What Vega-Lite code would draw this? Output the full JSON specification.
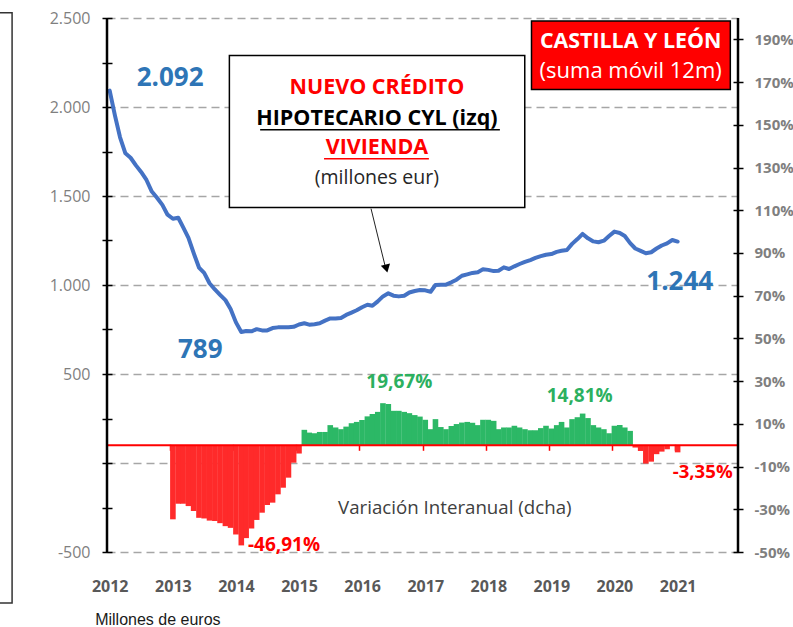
{
  "$schema": "https://vega.github.io/schema/vega-lite/v6.json",
  "width": 631,
  "height": 534,
  "autosize": {"type": "none"},
  "padding": {"left": 107, "top": 18, "right": 55, "bottom": 75},
  "background": "white",
  "config": {"view": {"stroke": null}, "font": "Open Sans"},
  "data": {"values": [
    {"date": "2012-01-01", "credito": 2092, "tasa": null},
    {"date": "2012-02-01", "credito": 1950, "tasa": null},
    {"date": "2012-03-01", "credito": 1830, "tasa": null},
    {"date": "2012-04-01", "credito": 1740, "tasa": null},
    {"date": "2012-05-01", "credito": 1715, "tasa": null},
    {"date": "2012-06-01", "credito": 1672, "tasa": null},
    {"date": "2012-07-01", "credito": 1635, "tasa": null},
    {"date": "2012-08-01", "credito": 1590, "tasa": null},
    {"date": "2012-09-01", "credito": 1525, "tasa": null},
    {"date": "2012-10-01", "credito": 1490, "tasa": null},
    {"date": "2012-11-01", "credito": 1450, "tasa": null},
    {"date": "2012-12-01", "credito": 1395, "tasa": null},
    {"date": "2013-01-01", "credito": 1372, "tasa": -34.7},
    {"date": "2013-02-01", "credito": 1378, "tasa": -27.4},
    {"date": "2013-03-01", "credito": 1325, "tasa": -27.4},
    {"date": "2013-04-01", "credito": 1265, "tasa": -28.5},
    {"date": "2013-05-01", "credito": 1180, "tasa": -30.8},
    {"date": "2013-06-01", "credito": 1098, "tasa": -34.0},
    {"date": "2013-07-01", "credito": 1068, "tasa": -34.3},
    {"date": "2013-08-01", "credito": 1010, "tasa": -35.3},
    {"date": "2013-09-01", "credito": 975, "tasa": -35.5},
    {"date": "2013-10-01", "credito": 945, "tasa": -36.5},
    {"date": "2013-11-01", "credito": 915, "tasa": -37.9},
    {"date": "2013-12-01", "credito": 865, "tasa": -38.7},
    {"date": "2014-01-01", "credito": 790, "tasa": -41.8},
    {"date": "2014-02-01", "credito": 736, "tasa": -46.91},
    {"date": "2014-03-01", "credito": 742, "tasa": -43.5},
    {"date": "2014-04-01", "credito": 740, "tasa": -39.0},
    {"date": "2014-05-01", "credito": 752, "tasa": -35.0},
    {"date": "2014-06-01", "credito": 745, "tasa": -31.6},
    {"date": "2014-07-01", "credito": 745, "tasa": -28.0},
    {"date": "2014-08-01", "credito": 758, "tasa": -26.9},
    {"date": "2014-09-01", "credito": 762, "tasa": -23.0},
    {"date": "2014-10-01", "credito": 762, "tasa": -19.9},
    {"date": "2014-11-01", "credito": 762, "tasa": -15.2},
    {"date": "2014-12-01", "credito": 765, "tasa": -8.2},
    {"date": "2015-01-01", "credito": 778, "tasa": -3.9},
    {"date": "2015-02-01", "credito": 785, "tasa": 7.2},
    {"date": "2015-03-01", "credito": 777, "tasa": 5.9},
    {"date": "2015-04-01", "credito": 780, "tasa": 5.6},
    {"date": "2015-05-01", "credito": 785, "tasa": 6.2},
    {"date": "2015-06-01", "credito": 800, "tasa": 6.2},
    {"date": "2015-07-01", "credito": 812, "tasa": 9.4},
    {"date": "2015-08-01", "credito": 812, "tasa": 8.3},
    {"date": "2015-09-01", "credito": 815, "tasa": 7.5},
    {"date": "2015-10-01", "credito": 832, "tasa": 8.7},
    {"date": "2015-11-01", "credito": 845, "tasa": 10.3},
    {"date": "2015-12-01", "credito": 858, "tasa": 10.9},
    {"date": "2016-01-01", "credito": 875, "tasa": 11.8},
    {"date": "2016-02-01", "credito": 889, "tasa": 13.5},
    {"date": "2016-03-01", "credito": 883, "tasa": 14.6},
    {"date": "2016-04-01", "credito": 908, "tasa": 15.6},
    {"date": "2016-05-01", "credito": 936, "tasa": 19.67},
    {"date": "2016-06-01", "credito": 953, "tasa": 19.3},
    {"date": "2016-07-01", "credito": 940, "tasa": 16.1},
    {"date": "2016-08-01", "credito": 936, "tasa": 16.1},
    {"date": "2016-09-01", "credito": 940, "tasa": 15.6},
    {"date": "2016-10-01", "credito": 958, "tasa": 15.0},
    {"date": "2016-11-01", "credito": 966, "tasa": 14.1},
    {"date": "2016-12-01", "credito": 972, "tasa": 13.4},
    {"date": "2017-01-01", "credito": 970, "tasa": 11.9},
    {"date": "2017-02-01", "credito": 962, "tasa": 7.5},
    {"date": "2017-03-01", "credito": 1000, "tasa": 12.2},
    {"date": "2017-04-01", "credito": 1002, "tasa": 8.5},
    {"date": "2017-05-01", "credito": 1002, "tasa": 7.5},
    {"date": "2017-06-01", "credito": 1015, "tasa": 9.0},
    {"date": "2017-07-01", "credito": 1030, "tasa": 9.9},
    {"date": "2017-08-01", "credito": 1052, "tasa": 10.6},
    {"date": "2017-09-01", "credito": 1060, "tasa": 10.9},
    {"date": "2017-10-01", "credito": 1068, "tasa": 10.5},
    {"date": "2017-11-01", "credito": 1072, "tasa": 9.4},
    {"date": "2017-12-01", "credito": 1088, "tasa": 11.9},
    {"date": "2018-01-01", "credito": 1085, "tasa": 11.9},
    {"date": "2018-02-01", "credito": 1078, "tasa": 11.4},
    {"date": "2018-03-01", "credito": 1080, "tasa": 7.5},
    {"date": "2018-04-01", "credito": 1099, "tasa": 8.3},
    {"date": "2018-05-01", "credito": 1090, "tasa": 8.3},
    {"date": "2018-06-01", "credito": 1105, "tasa": 9.1},
    {"date": "2018-07-01", "credito": 1118, "tasa": 8.3},
    {"date": "2018-08-01", "credito": 1130, "tasa": 7.5},
    {"date": "2018-09-01", "credito": 1140, "tasa": 7.0},
    {"date": "2018-10-01", "credito": 1152, "tasa": 7.0},
    {"date": "2018-11-01", "credito": 1162, "tasa": 8.0},
    {"date": "2018-12-01", "credito": 1170, "tasa": 9.1},
    {"date": "2019-01-01", "credito": 1174, "tasa": 7.8},
    {"date": "2019-02-01", "credito": 1186, "tasa": 9.4},
    {"date": "2019-03-01", "credito": 1192, "tasa": 10.9},
    {"date": "2019-04-01", "credito": 1197, "tasa": 8.3},
    {"date": "2019-05-01", "credito": 1231, "tasa": 12.2},
    {"date": "2019-06-01", "credito": 1258, "tasa": 13.1},
    {"date": "2019-07-01", "credito": 1287, "tasa": 14.81},
    {"date": "2019-08-01", "credito": 1262, "tasa": 12.7},
    {"date": "2019-09-01", "credito": 1245, "tasa": 9.4},
    {"date": "2019-10-01", "credito": 1240, "tasa": 8.3},
    {"date": "2019-11-01", "credito": 1249, "tasa": 7.5},
    {"date": "2019-12-01", "credito": 1275, "tasa": 5.6},
    {"date": "2020-01-01", "credito": 1300, "tasa": 9.1},
    {"date": "2020-02-01", "credito": 1292, "tasa": 9.4},
    {"date": "2020-03-01", "credito": 1275, "tasa": 8.3},
    {"date": "2020-04-01", "credito": 1235, "tasa": 6.7},
    {"date": "2020-05-01", "credito": 1205, "tasa": -1.1},
    {"date": "2020-06-01", "credito": 1192, "tasa": -2.7},
    {"date": "2020-07-01", "credito": 1178, "tasa": -8.6},
    {"date": "2020-08-01", "credito": 1184, "tasa": -7.7},
    {"date": "2020-09-01", "credito": 1205, "tasa": -4.2},
    {"date": "2020-10-01", "credito": 1222, "tasa": -3.0},
    {"date": "2020-11-01", "credito": 1234, "tasa": -1.9},
    {"date": "2020-12-01", "credito": 1253, "tasa": -0.3},
    {"date": "2021-01-01", "credito": 1244, "tasa": -3.35}
  ]},
  "resolve": {"scale": {"y": "independent"}, "axis": {"x": "independent"}},
  "layer": [
    {
      "layer": [
        {
          "mark": {"type": "bar", "width": 5.6},
          "encoding": {
            "x": {"field": "date", "type": "temporal",
              "scale": {"type": "utc", "nice": false, "padding": 0, "domain": [{"year": 2011, "month": 12, "date": 16, "hours": 12, "utc": true}, {"year": 2021, "month": 12, "date": 16, "hours": 12, "utc": true}]},
              "axis": {"orient": "bottom", "offset": -107.7, "title": null, "labels": false, "domain": false, "grid": false, "ticks": true, "tickColor": "#ff0000", "tickSize": 6, "tickWidth": 1.5,
                "values": [
                  {"year": 2012, "month": 12, "date": 16, "hours": 12, "utc": true},
                  {"year": 2013, "month": 12, "date": 16, "hours": 12, "utc": true},
                  {"year": 2014, "month": 12, "date": 16, "hours": 12, "utc": true},
                  {"year": 2015, "month": 12, "date": 16, "hours": 12, "utc": true},
                  {"year": 2016, "month": 12, "date": 16, "hours": 12, "utc": true},
                  {"year": 2017, "month": 12, "date": 16, "hours": 12, "utc": true},
                  {"year": 2018, "month": 12, "date": 16, "hours": 12, "utc": true},
                  {"year": 2019, "month": 12, "date": 16, "hours": 12, "utc": true},
                  {"year": 2020, "month": 12, "date": 16, "hours": 12, "utc": true}
                ]}},
            "y": {"field": "tasa", "type": "quantitative",
              "scale": {"domain": [-50, 200], "nice": false, "zero": false},
              "axis": {"orient": "right", "title": null, "grid": false, "domain": false, "offset": -5, "tickSize": 10, "tickColor": "#000000", "tickWidth": 1.5,
                "values": [-50, -40, -30, -20, -10, 0, 10, 20, 30, 40, 50, 60, 70, 80, 90, 100, 110, 120, 130, 140, 150, 160, 170, 180, 190],
                "labelExpr": "(datum.value + 50) % 20 === 0 ? datum.value + '%' : ''",
                "labelFontSize": 15, "labelFontWeight": "bold", "labelColor": "#7f7f7f", "labelPadding": 11, "labelFont": "Open Sans"}},
            "color": {"condition": {"test": "datum['tasa'] < 0", "value": "#ff2a2a"}, "value": "#2cb866"}
          }
        },
        {
          "data": {"values": [{}]},
          "mark": {"type": "rule", "color": "#ff0000", "strokeWidth": 2},
          "encoding": {"y": {"datum": 0, "type": "quantitative"}}
        }
      ]
    },
    {
      "layer": [
        {
          "mark": {"type": "line", "color": "#4472c4", "strokeWidth": 4, "strokeJoin": "round", "strokeCap": "round"},
          "encoding": {
            "x": {"field": "date", "type": "temporal",
              "scale": {"type": "utc", "nice": false, "padding": 0, "domain": [{"year": 2011, "month": 12, "date": 16, "hours": 12, "utc": true}, {"year": 2021, "month": 12, "date": 16, "hours": 12, "utc": true}]},
              "axis": {"orient": "bottom", "title": null, "format": "%Y", "domain": false, "ticks": false, "grid": false, "labelFontSize": 16, "labelFontWeight": "bold", "labelColor": "#595959", "labelPadding": 26, "labelFont": "Open Sans",
                "values": [
                  {"year": 2012, "month": 1, "date": 1, "utc": true},
                  {"year": 2013, "month": 1, "date": 1, "utc": true},
                  {"year": 2014, "month": 1, "date": 1, "utc": true},
                  {"year": 2015, "month": 1, "date": 1, "utc": true},
                  {"year": 2016, "month": 1, "date": 1, "utc": true},
                  {"year": 2017, "month": 1, "date": 1, "utc": true},
                  {"year": 2018, "month": 1, "date": 1, "utc": true},
                  {"year": 2019, "month": 1, "date": 1, "utc": true},
                  {"year": 2020, "month": 1, "date": 1, "utc": true},
                  {"year": 2021, "month": 1, "date": 1, "utc": true}
                ]}},
            "y": {"field": "credito", "type": "quantitative",
              "scale": {"domain": [-500, 2500], "nice": false, "zero": false},
              "axis": {"orient": "left", "title": null, "domain": false, "offset": -5, "tickSize": 10, "tickColor": "#000000", "tickWidth": 1.5,
                "values": [-500, -250, 0, 250, 500, 750, 1000, 1250, 1500, 1750, 2000, 2250, 2500],
                "labelExpr": "datum.value % 500 !== 0 || datum.value === 0 ? '' : (abs(datum.value) >= 1000 ? replace(format(datum.value, ','), ',', '.') : '' + datum.value)",
                "labelFontSize": 16, "labelColor": "#7f7f7f", "labelPadding": 12, "labelFont": "Open Sans",
                "grid": true, "gridColor": "#a6a6a6", "gridDash": [8, 5], "gridWidth": 1.5,
                "gridOpacity": {"condition": {"test": "datum.value % 500 === 0", "value": 1}, "value": 0}}}
          }
        },
        {
          "data": {"values": [{}]},
          "mark": {"type": "rule", "color": "#000000", "strokeWidth": 2.5},
          "encoding": {"x": {"datum": {"year": 2011, "month": 12, "date": 16, "hours": 12, "utc": true}, "type": "temporal"}}
        },
        {
          "data": {"values": [{}]},
          "mark": {"type": "rule", "color": "#000000", "strokeWidth": 2.5},
          "encoding": {"x": {"datum": {"year": 2021, "month": 12, "date": 16, "hours": 12, "utc": true}, "type": "temporal"}}
        },
        {
          "data": {"values": [{}]},
          "mark": {"type": "text", "text": "2.092", "font": "Open Sans", "fontSize": 26, "fontWeight": "bold", "color": "#2e75b6", "align": "center", "baseline": "middle"},
          "encoding": {"x": {"datum": {"year": 2012, "month": 12, "date": 16, "utc": true}, "type": "temporal"}, "y": {"datum": 2163, "type": "quantitative"}}
        },
        {
          "data": {"values": [{}]},
          "mark": {"type": "text", "text": "789", "font": "Open Sans", "fontSize": 26, "fontWeight": "bold", "color": "#2e75b6", "align": "center", "baseline": "middle"},
          "encoding": {"x": {"datum": {"year": 2013, "month": 6, "date": 8, "utc": true}, "type": "temporal"}, "y": {"datum": 636, "type": "quantitative"}}
        },
        {
          "data": {"values": [{}]},
          "mark": {"type": "text", "text": "1.244", "font": "Open Sans", "fontSize": 26, "fontWeight": "bold", "color": "#2e75b6", "align": "center", "baseline": "middle"},
          "encoding": {"x": {"datum": {"year": 2021, "month": 1, "date": 13, "utc": true}, "type": "temporal"}, "y": {"datum": 1019, "type": "quantitative"}}
        },
        {
          "data": {"values": [{}]},
          "mark": {"type": "text", "text": "19,67%", "font": "Open Sans", "fontSize": 19, "fontWeight": "bold", "color": "#2cb05f", "align": "center", "baseline": "middle"},
          "encoding": {"x": {"datum": {"year": 2016, "month": 8, "date": 4, "utc": true}, "type": "temporal"}, "y": {"datum": 456, "type": "quantitative"}}
        },
        {
          "data": {"values": [{}]},
          "mark": {"type": "text", "text": "14,81%", "font": "Open Sans", "fontSize": 19, "fontWeight": "bold", "color": "#2cb05f", "align": "center", "baseline": "middle"},
          "encoding": {"x": {"datum": {"year": 2019, "month": 6, "date": 14, "utc": true}, "type": "temporal"}, "y": {"datum": 377, "type": "quantitative"}}
        },
        {
          "data": {"values": [{}]},
          "mark": {"type": "text", "text": "-46,91%", "font": "Open Sans", "fontSize": 19, "fontWeight": "bold", "color": "#ff0000", "align": "center", "baseline": "middle"},
          "encoding": {"x": {"datum": {"year": 2014, "month": 10, "date": 6, "utc": true}, "type": "temporal"}, "y": {"datum": -458, "type": "quantitative"}}
        },
        {
          "data": {"values": [{}]},
          "mark": {"type": "text", "text": "-3,35%", "font": "Open Sans", "fontSize": 18.6, "fontWeight": "bold", "color": "#ff0000", "align": "center", "baseline": "middle"},
          "encoding": {"x": {"datum": {"year": 2021, "month": 5, "date": 26, "utc": true}, "type": "temporal"}, "y": {"datum": -53, "type": "quantitative"}}
        },
        {
          "data": {"values": [{}]},
          "mark": {"type": "text", "text": "Variación Interanual (dcha)", "font": "Open Sans", "fontSize": 18.7, "color": "#404040", "align": "center", "baseline": "middle"},
          "encoding": {"x": {"datum": {"year": 2017, "month": 6, "date": 21, "utc": true}, "type": "temporal"}, "y": {"datum": -253, "type": "quantitative"}}
        },
        {
          "data": {"values": [{}]},
          "mark": {"type": "rect", "fill": "#ffffff", "stroke": "#000000", "strokeWidth": 1.5},
          "encoding": {
            "x": {"datum": {"year": 2013, "month": 11, "date": 24, "utc": true}, "type": "temporal"},
            "x2": {"datum": {"year": 2018, "month": 7, "date": 31, "utc": true}},
            "y": {"datum": 2290, "type": "quantitative"},
            "y2": {"datum": 1436}
          }
        },
        {
          "data": {"values": [{}]},
          "mark": {"type": "text", "text": "NUEVO CRÉDITO", "font": "Open Sans", "fontSize": 21.5, "fontWeight": "bold", "color": "#ff0000", "align": "center", "baseline": "middle"},
          "encoding": {"x": {"datum": {"year": 2016, "month": 3, "date": 27, "utc": true}, "type": "temporal"}, "y": {"datum": 2104, "type": "quantitative"}}
        },
        {
          "data": {"values": [{}]},
          "mark": {"type": "text", "text": "HIPOTECARIO CYL (izq)", "font": "Open Sans", "fontSize": 21.5, "fontWeight": "bold", "color": "#000000", "align": "center", "baseline": "middle"},
          "encoding": {"x": {"datum": {"year": 2016, "month": 3, "date": 27, "utc": true}, "type": "temporal"}, "y": {"datum": 1935, "type": "quantitative"}}
        },
        {
          "data": {"values": [{}]},
          "mark": {"type": "rule", "color": "#000000", "strokeWidth": 1.5},
          "encoding": {
            "x": {"datum": {"year": 2014, "month": 5, "date": 21, "utc": true}, "type": "temporal"},
            "x2": {"datum": {"year": 2018, "month": 3, "date": 9, "utc": true}},
            "y": {"datum": 1872, "type": "quantitative"}
          }
        },
        {
          "data": {"values": [{}]},
          "mark": {"type": "text", "text": "VIVIENDA", "font": "Open Sans", "fontSize": 21.5, "fontWeight": "bold", "color": "#ff0000", "align": "center", "baseline": "middle"},
          "encoding": {"x": {"datum": {"year": 2016, "month": 3, "date": 27, "utc": true}, "type": "temporal"}, "y": {"datum": 1769, "type": "quantitative"}}
        },
        {
          "data": {"values": [{}]},
          "mark": {"type": "rule", "color": "#ff0000", "strokeWidth": 1.5},
          "encoding": {
            "x": {"datum": {"year": 2015, "month": 5, "date": 26, "utc": true}, "type": "temporal"},
            "x2": {"datum": {"year": 2017, "month": 1, "date": 22, "utc": true}},
            "y": {"datum": 1709, "type": "quantitative"}
          }
        },
        {
          "data": {"values": [{}]},
          "mark": {"type": "text", "text": "(millones eur)", "font": "Open Sans", "fontSize": 19.5, "color": "#262626", "align": "center", "baseline": "middle"},
          "encoding": {"x": {"datum": {"year": 2016, "month": 3, "date": 27, "utc": true}, "type": "temporal"}, "y": {"datum": 1603, "type": "quantitative"}}
        },
        {
          "data": {"values": [{}]},
          "mark": {"type": "rule", "color": "#222222", "strokeWidth": 1},
          "encoding": {
            "x": {"datum": {"year": 2016, "month": 2, "date": 22, "utc": true}, "type": "temporal"},
            "x2": {"datum": {"year": 2016, "month": 5, "date": 13, "utc": true}},
            "y": {"datum": 1429, "type": "quantitative"},
            "y2": {"datum": 1109}
          }
        },
        {
          "data": {"values": [{}]},
          "mark": {"type": "point", "shape": "triangle-down", "filled": true, "color": "#000000", "opacity": 1, "size": 90, "angle": -14},
          "encoding": {"x": {"datum": {"year": 2016, "month": 5, "date": 21, "utc": true}, "type": "temporal"}, "y": {"datum": 1092, "type": "quantitative"}}
        },
        {
          "data": {"values": [{}]},
          "mark": {"type": "rect", "fill": "#ff0000", "stroke": "#000000", "strokeWidth": 1.5},
          "encoding": {
            "x": {"datum": {"year": 2018, "month": 9, "date": 8, "utc": true}, "type": "temporal"},
            "x2": {"datum": {"year": 2021, "month": 11, "date": 2, "utc": true}},
            "y": {"datum": 2483, "type": "quantitative"},
            "y2": {"datum": 2098}
          }
        },
        {
          "data": {"values": [{}]},
          "mark": {"type": "text", "text": "CASTILLA Y LEÓN", "font": "Open Sans", "fontSize": 21.4, "fontWeight": "bold", "color": "#ffffff", "align": "center", "baseline": "middle"},
          "encoding": {"x": {"datum": {"year": 2020, "month": 4, "date": 4, "utc": true}, "type": "temporal"}, "y": {"datum": 2363, "type": "quantitative"}}
        },
        {
          "data": {"values": [{}]},
          "mark": {"type": "text", "text": "(suma móvil 12m)", "font": "Open Sans", "fontSize": 22, "color": "#ffffff", "align": "center", "baseline": "middle"},
          "encoding": {"x": {"datum": {"year": 2020, "month": 4, "date": 4, "utc": true}, "type": "temporal"}, "y": {"datum": 2200, "type": "quantitative"}}
        },
        {
          "data": {"values": [{}]},
          "mark": {"type": "rect", "fill": null, "fillOpacity": 0, "stroke": "#333333", "strokeWidth": 1.5},
          "encoding": {
            "x": {"datum": {"year": 2010, "month": 3, "date": 10, "utc": true}, "type": "temporal"},
            "x2": {"datum": {"year": 2010, "month": 6, "date": 15, "utc": true}},
            "y": {"datum": 2530, "type": "quantitative"},
            "y2": {"datum": -787}
          }
        },
        {
          "data": {"values": [{}]},
          "mark": {"type": "text", "text": "Millones de euros", "font": "Liberation Sans", "fontSize": 16, "color": "#1a1a1a", "align": "left", "baseline": "middle"},
          "encoding": {"x": {"datum": {"year": 2011, "month": 10, "date": 9, "utc": true}, "type": "temporal"}, "y": {"datum": -884, "type": "quantitative"}}
        }
      ]
    }
  ]
}
